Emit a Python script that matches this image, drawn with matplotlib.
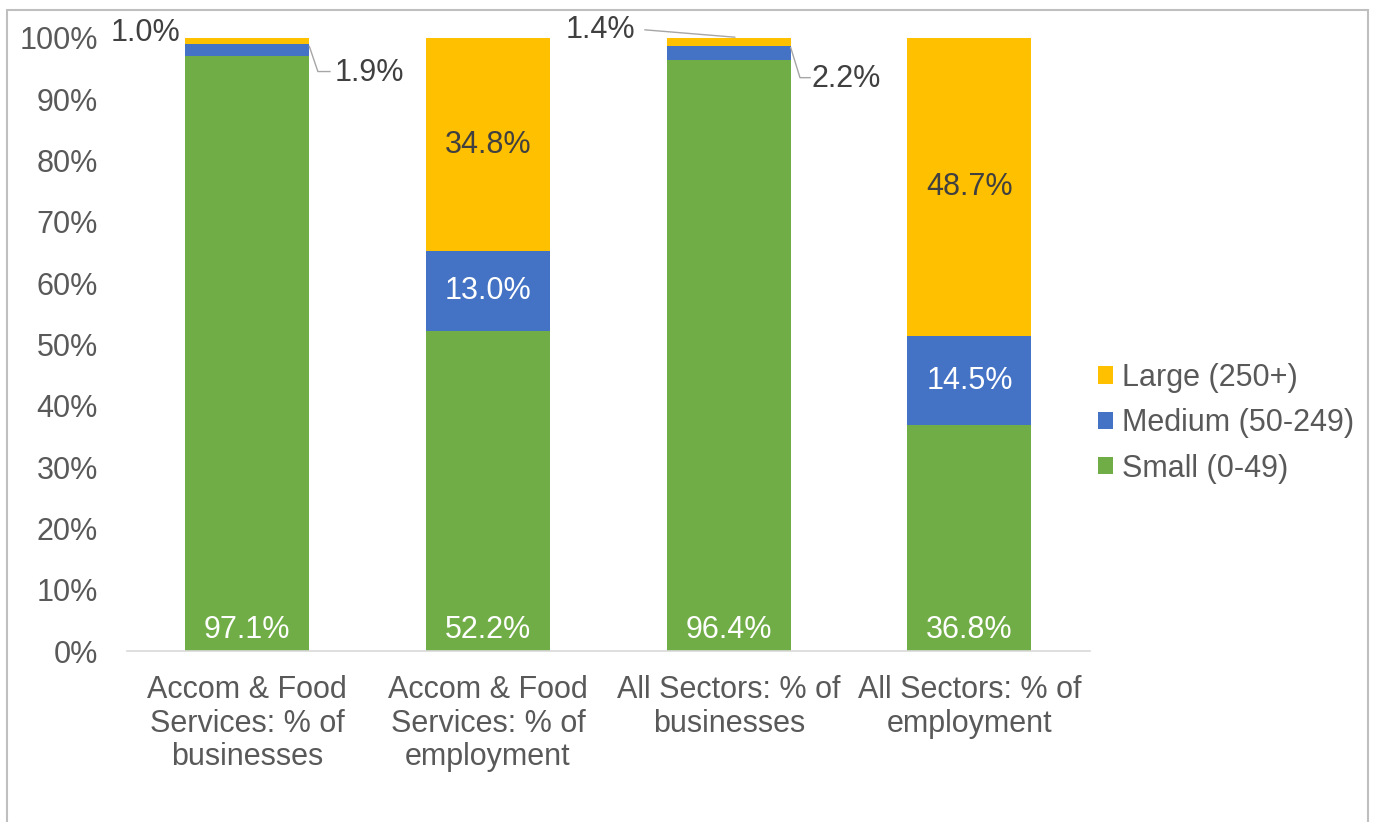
import numpy as np
import matplotlib.pyplot as plt
from matplotlib.patches import Rectangle

plt.rcParams['font.family'] = ['Liberation Sans', 'DejaVu Sans']

categories = ['Accom & Food\nServices: % of\nbusinesses',
              'Accom & Food\nServices: % of\nemployment',
              'All Sectors: % of\nbusinesses',
              'All Sectors: % of\nemployment']
small = [97.1, 52.2, 96.4, 36.8]
medium = [1.9, 13.0, 2.2, 14.5]
large = [1.0, 34.8, 1.4, 48.7]

c_small = '#70AD47'
c_medium = '#4472C4'
c_large = '#FFC000'
txt = '#595959'
dark = '#404040'
fs = 22

fig = plt.figure(figsize=(13.76, 8.22), dpi=100)
ax = fig.add_axes([0.0923, 0.208, 0.6997, 0.746])

x = np.arange(len(categories))
w = 0.515
small = np.array(small)
medium = np.array(medium)
large = np.array(large)
b1 = ax.bar(x, small, w, color=c_small, label='Small (0-49)')
b2 = ax.bar(x, medium, w, bottom=small, color=c_medium, label='Medium (50-249)')
b3 = ax.bar(x, large, w, bottom=small + medium, color=c_large, label='Large (250+)')

ax.set_xlim(-0.5, 3.5)
ax.set_ylim(0, 100)
ax.set_yticks(np.arange(0, 101, 10))
ax.set_yticklabels([f'{v}%' for v in range(0, 101, 10)])
ax.set_xticks(x)
ax.set_xticklabels(categories, linespacing=1.17)
ax.tick_params(length=0, labelsize=fs, labelcolor=txt)
ax.tick_params(axis='x', pad=17)
ax.tick_params(axis='y', pad=21)
for s in ['top', 'right', 'left']:
    ax.spines[s].set_visible(False)
ax.spines['bottom'].set_color('#D9D9D9')
ax.spines['bottom'].set_linewidth(1.2)

# small share labels at the base of each bar
for i in range(4):
    ax.text(x[i], 3.4, f'{small[i]:.1f}%', ha='center', va='center',
            color='white', fontsize=fs)

# labels inside the taller segments
for i in [1, 3]:
    ax.text(x[i], small[i] + medium[i] / 2, f'{medium[i]:.1f}%', ha='center',
            va='center', color='white', fontsize=fs)
    ax.text(x[i], small[i] + medium[i] + large[i] / 2, f'{large[i]:.1f}%',
            ha='center', va='center', color=dark, fontsize=fs)

# thin segments get labels outside with leader lines
lc = '#A6A6A6'
right = x[0] + w / 2
ax.text(-0.28, 100.8, f'{large[0]:.1f}%', ha='right',
        va='center', color=dark, fontsize=fs)
ax.plot([right, 0.293, 0.343], [98.6, 94.5, 94.5],
        color=lc, lw=1, clip_on=False)
ax.text(0.364, 94.3, f'{medium[0]:.1f}%', ha='left', va='center',
        color=dark, fontsize=fs)

right = x[2] + w / 2
ax.text(1.61, 101.3, f'{large[2]:.1f}%', ha='right',
        va='center', color=dark, fontsize=fs)
ax.plot([1.652, 2.025], [101.3, 100.1],
        color=lc, lw=1, clip_on=False)
ax.plot([right, 2.296, 2.338], [98.4, 93.5, 93.5],
        color=lc, lw=1, clip_on=False)
ax.text(2.345, 93.3, f'{medium[2]:.1f}%', ha='left', va='center',
        color=dark, fontsize=fs)

leg = fig.legend(handles=[b3, b2, b1], loc='center left',
                 bbox_to_anchor=(0.798, 0.485), frameon=False, fontsize=fs,
                 handlelength=0.5, handleheight=0.5, handletextpad=0.3,
                 labelspacing=0.5, borderpad=0, borderaxespad=0,
                 labelcolor=txt)

# outer frame
fig.patches.append(Rectangle((0.005, -0.01), 0.989, 0.998, transform=fig.transFigure,
                             fill=False, edgecolor='#BFBFBF', lw=1.5))

fig.savefig('out.png', dpi=100, facecolor='white')
